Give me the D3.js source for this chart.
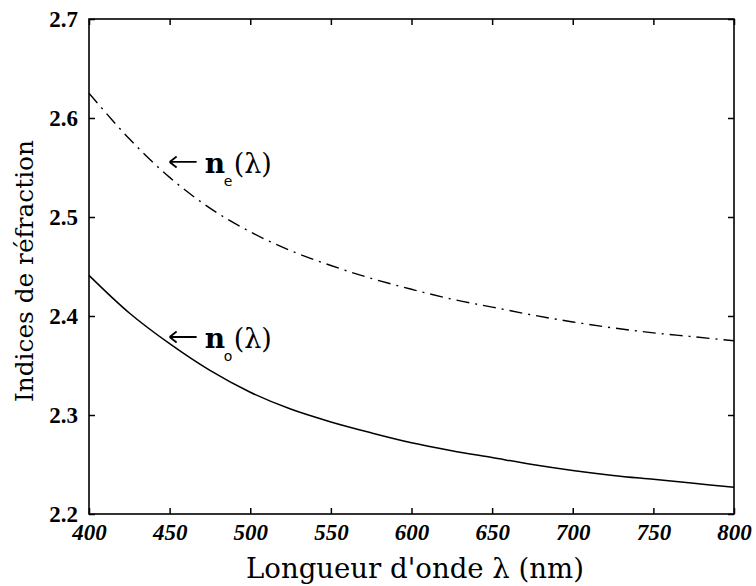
<!DOCTYPE html>
<html><head><meta charset="utf-8">
<script src="https://cdn.jsdelivr.net/npm/d3@7"></script>
<style>body{margin:0;background:#fff}svg{display:block}
.sf{font-family:"Liberation Serif","Times New Roman",serif}
.dv{font-family:"DejaVu Serif","Liberation Serif",serif}
.ss{font-family:"DejaVu Sans","Liberation Sans",sans-serif}
</style>
</head><body>
<svg id="c" width="756" height="586"></svg>
<script>
const wavelengths = [400,425,450,475,500,525,550,575,600,625,650,675,700,725,750,775,800];
const nE = [2.625,2.579,2.540,2.509,2.485,2.466,2.451,2.438,2.427,2.417,2.409,2.401,2.394,2.388,2.383,2.379,2.375];
const nO = [2.441,2.403,2.372,2.345,2.323,2.306,2.293,2.282,2.272,2.264,2.257,2.250,2.244,2.239,2.235,2.231,2.227];
const xTicks = [400,450,500,550,600,650,700,750,800];
const yTicks = [2.2,2.3,2.4,2.5,2.6,2.7];
const xTitle = "Longueur d'onde λ (nm)";
const yTitle = "Indices de réfraction";

const svg = d3.select("#c");
const L = 89, R = 734, T = 19, B = 514;
const x = d3.scaleLinear().domain([400,800]).range([L,R]);
const y = d3.scaleLinear().domain([2.2,2.7]).range([B,T]);

svg.append("rect").attr("x",L).attr("y",T).attr("width",R-L).attr("height",B-T)
  .attr("fill","none").attr("stroke","#000").attr("stroke-width",1.6);

const tl = 6;
function styleAxis(g){
  g.attr("font-family",null).attr("font-size",null);
  g.select(".domain").remove();
  g.selectAll(".tick line").attr("stroke","#000").attr("stroke-width",1.5);
  g.selectAll(".tick text").attr("class","sf").style("font-weight","bold")
    .style("font-size","23px").attr("fill","#000");
}
svg.append("g").attr("transform",`translate(0,${B})`)
  .call(d3.axisBottom(x).tickValues(xTicks).tickFormat(d3.format("d")).tickSizeInner(-tl).tickPadding(10))
  .call(styleAxis).call(g=>g.selectAll(".tick text").style("font-style","italic"));
svg.append("g").attr("transform",`translate(0,${T})`)
  .call(d3.axisTop(x).tickValues(xTicks).tickSizeInner(-tl).tickFormat(""))
  .call(styleAxis);
svg.append("g").attr("transform",`translate(${L},0)`)
  .call(d3.axisLeft(y).tickValues(yTicks).tickFormat(d3.format(".1f")).tickSizeInner(-tl).tickPadding(11))
  .call(styleAxis);
svg.append("g").attr("transform",`translate(${R},0)`)
  .call(d3.axisRight(y).tickValues(yTicks).tickSizeInner(-tl).tickFormat(""))
  .call(styleAxis);

const line = d3.line().x((d,i)=>x(wavelengths[i])).y(d=>y(d)).curve(d3.curveCatmullRom);
svg.append("path").datum(nE).attr("d",line).attr("fill","none").attr("stroke","#000")
  .attr("stroke-width",1.4).attr("stroke-dasharray","13,6,2,6");
svg.append("path").datum(nO).attr("d",line).attr("fill","none").attr("stroke","#000")
  .attr("stroke-width",1.5);

svg.append("text").attr("class","dv").attr("x",415).attr("y",578).attr("text-anchor","middle")
  .style("font-size","28px").attr("fill","#000")
  .attr("textLength",338).attr("lengthAdjust","spacingAndGlyphs").text(xTitle);
svg.append("text").attr("class","dv").attr("transform",`translate(33,271) rotate(-90)`).attr("text-anchor","middle")
  .style("font-size","25px").attr("fill","#000")
  .attr("textLength",262).attr("lengthAdjust","spacingAndGlyphs").text(yTitle);

const labels = [{sub:"e", px:450, py:2.5556},{sub:"o", px:450, py:2.3788}];
labels.forEach(a=>{
  const ax = x(a.px), ay = y(a.py);
  const g = svg.append("g");
  g.append("path").attr("d",`M${ax},${ay} L${ax+27},${ay} M${ax},${ay} l7,-5.5 M${ax},${ay} l7,5.5`)
    .attr("fill","none").attr("stroke","#000").attr("stroke-width",1.8);
  g.append("text").attr("class","dv").attr("x",ax+35).attr("y",ay+11).style("font-weight","bold")
    .style("font-size","28px").attr("fill","#000").text("n");
  g.append("text").attr("class","ss").attr("x",ax+54).attr("y",ay+24)
    .style("font-size","14px").attr("fill","#000").text(a.sub);
  g.append("text").attr("class","dv").attr("x",ax+64).attr("y",ay+11)
    .style("font-size","27px").attr("fill","#000").text("(λ)");
});
</script>
</body></html>
